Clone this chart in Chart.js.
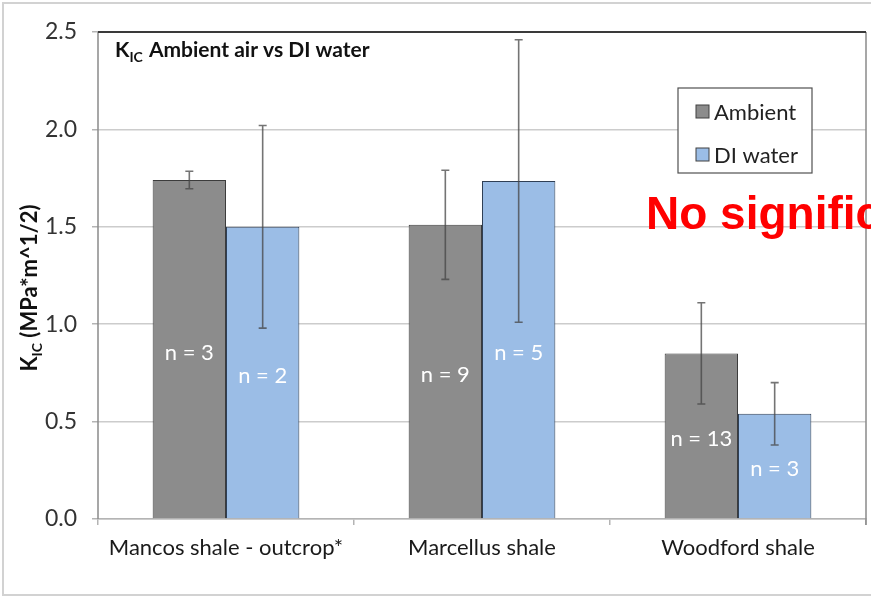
<!DOCTYPE html>
<html>
<head>
<meta charset="utf-8">
<script src="https://cdn.jsdelivr.net/npm/chart.js@4.4.1/dist/chart.umd.min.js"></script>
<style>
  html, body { margin: 0; padding: 0; background: #ffffff; }
  #wrap { position: relative; width: 871px; height: 597px; }
  canvas { display: block; }
</style>
</head>
<body>
<div id="wrap"><canvas id="c" width="871" height="597"></canvas></div>
<script>
// Fracture toughness per shale, ambient air vs DI water
const categories = ['Mancos shale - outcrop*', 'Marcellus shale', 'Woodford shale'];
const seriesNames = ['Ambient', 'DI water'];
const ambientKic = [1.74, 1.51, 0.85];
const diWaterKic = [1.50, 1.735, 0.54];
const ambientErr = [0.045, 0.28, 0.26];
const diWaterErr = [0.52, 0.725, 0.16];
const ambientN = [3, 9, 13];
const diWaterN = [2, 5, 3];
const yTicks = [0, 0.5, 1.0, 1.5, 2.0, 2.5];
const noteText = 'No significant difference';

const FONT = 'Lato, "Open Sans", sans-serif';

// error bars and "n = ..." labels drawn on top of each bar
const barExtras = {
  id: 'barExtras',
  afterDatasetsDraw(chart) {
    const ctx = chart.ctx;
    const y = chart.scales.y;
    chart.data.datasets.forEach((ds, di) => {
      const meta = chart.getDatasetMeta(di);
      meta.data.forEach((bar, i) => {
        const v = ds.data[i];
        const e = ds.errors[i];
        const yHi = y.getPixelForValue(v + e);
        const yLo = y.getPixelForValue(v - e);
        const x = bar.x;
        ctx.save();
        ctx.strokeStyle = 'rgba(70,70,70,0.75)';
        ctx.lineWidth = 1.6;
        ctx.beginPath();
        ctx.moveTo(x, yHi); ctx.lineTo(x, yLo);
        ctx.moveTo(x - 4, yHi); ctx.lineTo(x + 4, yHi);
        ctx.moveTo(x - 4, yLo); ctx.lineTo(x + 4, yLo);
        ctx.stroke();
        // sample count centred in the bar
        const base = y.getPixelForValue(0);
        ctx.fillStyle = '#ffffff';
        ctx.font = '22px ' + FONT;
        ctx.textAlign = 'center';
        ctx.textBaseline = 'middle';
        ctx.fillText('n = ' + ds.counts[i], x, (bar.y + base) / 2 + 3);
        ctx.restore();
      });
    });
  }
};

// plot frame, title, legend, axis title and note
const decorations = {
  id: 'decorations',
  beforeDraw(chart) {
    const ctx = chart.ctx;
    ctx.save();
    ctx.fillStyle = '#ffffff';
    ctx.fillRect(0, 0, chart.width, chart.height);
    // outer chart border
    ctx.strokeStyle = '#d2d2d2';
    ctx.lineWidth = 2;
    ctx.strokeRect(3, 3, chart.width + 10, chart.height - 5);
    ctx.restore();
  },
  afterDraw(chart) {
    const ctx = chart.ctx;
    const a = chart.chartArea;
    ctx.save();
    // plot area frame
    ctx.lineWidth = 1.5;
    ctx.strokeStyle = '#8a8a8a';
    ctx.beginPath();
    ctx.moveTo(a.left, a.bottom); ctx.lineTo(a.left, a.top);
    ctx.moveTo(a.right, a.top); ctx.lineTo(a.right, a.bottom + 6);
    ctx.stroke();
    ctx.strokeStyle = '#3a3a3a';
    ctx.lineWidth = 2;
    ctx.beginPath();
    ctx.moveTo(a.left, a.top); ctx.lineTo(a.right, a.top);
    ctx.stroke();

    // title with subscript
    ctx.fillStyle = '#111111';
    ctx.textBaseline = 'alphabetic';
    ctx.textAlign = 'left';
    let tx = a.left + 17, ty = a.top + 25;
    ctx.font = 'bold 21px ' + FONT;
    ctx.fillText('K', tx, ty);
    tx += ctx.measureText('K').width;
    ctx.font = 'bold 14px ' + FONT;
    ctx.fillText('IC', tx, ty + 5);
    tx += ctx.measureText('IC').width + 1;
    ctx.font = 'bold 21px ' + FONT;
    ctx.fillText(' Ambient air vs DI water', tx, ty);

    // y axis title, rotated
    ctx.save();
    ctx.translate(37, 288);
    ctx.rotate(-Math.PI / 2);
    const p1 = 'K', p2 = 'IC', p3 = ' (MPa*m^1/2)';
    ctx.font = 'bold 22px ' + FONT;
    const w1 = ctx.measureText(p1).width, w3 = ctx.measureText(p3).width;
    ctx.font = 'bold 14px ' + FONT;
    const w2 = ctx.measureText(p2).width;
    let sx = -(w1 + w2 + w3) / 2;
    ctx.font = 'bold 22px ' + FONT;
    ctx.fillText(p1, sx, 0); sx += w1;
    ctx.font = 'bold 14px ' + FONT;
    ctx.fillText(p2, sx, 5); sx += w2;
    ctx.font = 'bold 22px ' + FONT;
    ctx.fillText(p3, sx, 0);
    ctx.restore();

    // legend box
    const lx = 678, ly = 88, lw = 134, lh = 85;
    ctx.fillStyle = '#ffffff';
    ctx.fillRect(lx, ly, lw, lh);
    ctx.strokeStyle = '#505050';
    ctx.lineWidth = 1.2;
    ctx.strokeRect(lx, ly, lw, lh);
    chart.data.datasets.forEach((ds, i) => {
      const iy = ly + 24 + i * 43;
      ctx.fillStyle = ds.backgroundColor;
      ctx.fillRect(lx + 18, iy - 7, 13, 13);
      ctx.strokeStyle = '#404040';
      ctx.lineWidth = 1;
      ctx.strokeRect(lx + 18, iy - 7, 13, 13);
      ctx.fillStyle = '#222222';
      ctx.font = '22px ' + FONT;
      ctx.textBaseline = 'middle';
      ctx.fillText(ds.label, lx + 36, iy + 1);
    });

    // note in red
    ctx.fillStyle = '#ff0000';
    ctx.font = 'bold 46px "Liberation Sans", Arial, sans-serif';
    ctx.textBaseline = 'alphabetic';
    ctx.textAlign = 'left';
    ctx.fillText(noteText, 646, 229);
    ctx.restore();
  }
};

new Chart(document.getElementById('c'), {
  type: 'bar',
  data: {
    labels: categories,
    datasets: [
      {
        label: seriesNames[0],
        data: ambientKic,
        errors: ambientErr,
        counts: ambientN,
        backgroundColor: '#8c8c8c',
        borderColor: '#3c3c3c',
        borderWidth: 1
      },
      {
        label: seriesNames[1],
        data: diWaterKic,
        errors: diWaterErr,
        counts: diWaterN,
        backgroundColor: '#9bbde6',
        borderColor: '#2f3f55',
        borderWidth: 1
      }
    ]
  },
  options: {
    responsive: false,
    animation: false,
    layout: { padding: { top: 32, right: 5, left: 0, bottom: 0 } },
    categoryPercentage: 0.573,
    barPercentage: 1.0,
    plugins: {
      legend: { display: false },
      tooltip: { enabled: false },
      title: { display: false }
    },
    scales: {
      x: {
        grid: {
          offset: true,
          drawOnChartArea: false,
          drawTicks: true,
          tickLength: 6,
          tickColor: '#b4b4b4',
          lineWidth: 1.5
        },
        border: { display: true, color: '#b4b4b4', width: 1.5 },
        ticks: {
          color: '#1a1a1a',
          font: { family: FONT, size: 22 },
          padding: 10,
          maxRotation: 0,
          autoSkip: false
        },
        afterFit(scale) { scale.height = 78; }
      },
      y: {
        min: 0,
        max: 2.5,
        afterBuildTicks(scale) { scale.ticks = yTicks.map(v => ({ value: v })); },
        grid: {
          color: '#cccccc',
          lineWidth: 1.5,
          drawTicks: true,
          tickLength: 6,
          tickColor: '#b4b4b4'
        },
        border: { display: false },
        ticks: {
          color: '#333333',
          font: { family: FONT, size: 23 },
          padding: 15,
          callback: v => Number(v).toFixed(1)
        },
        afterFit(scale) { scale.width = 98; }
      }
    }
  },
  plugins: [barExtras, decorations]
});
</script>
</body>
</html>
